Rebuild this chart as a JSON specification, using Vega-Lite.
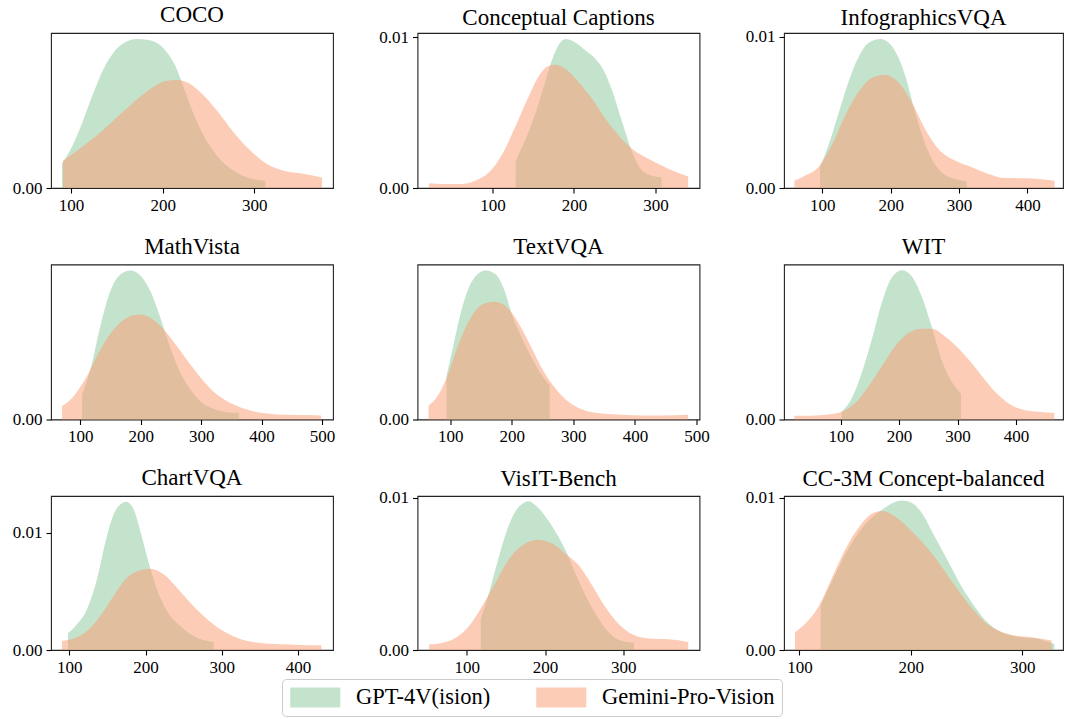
{
  "$schema": "https://vega.github.io/schema/vega-lite/v6.json",
  "background": "white",
  "padding": {"left": 11, "top": 3, "right": 0, "bottom": 0},
  "bounds": "flush",
  "columns": 3,
  "spacing": {"row": 76.5, "column": 84.5},
  "datasets": {
    "kde": [
      {"d":"COCO","m":"GPT-4V(ision)","x":90.2,"y":0.00146},{"d":"COCO","m":"GPT-4V(ision)","x":101.1,"y":0.00245},{"d":"COCO","m":"GPT-4V(ision)","x":113.8,"y":0.0041},{"d":"COCO","m":"GPT-4V(ision)","x":124.7,"y":0.00568},{"d":"COCO","m":"GPT-4V(ision)","x":135.6,"y":0.00708},{"d":"COCO","m":"GPT-4V(ision)","x":146.5,"y":0.00805},{"d":"COCO","m":"GPT-4V(ision)","x":157.5,"y":0.0086},{"d":"COCO","m":"GPT-4V(ision)","x":172,"y":0.00884},{"d":"COCO","m":"GPT-4V(ision)","x":182.9,"y":0.0088},{"d":"COCO","m":"GPT-4V(ision)","x":193.8,"y":0.0086},{"d":"COCO","m":"GPT-4V(ision)","x":204.7,"y":0.00805},{"d":"COCO","m":"GPT-4V(ision)","x":213.8,"y":0.00726},{"d":"COCO","m":"GPT-4V(ision)","x":222.9,"y":0.00597},{"d":"COCO","m":"GPT-4V(ision)","x":233.8,"y":0.00439},{"d":"COCO","m":"GPT-4V(ision)","x":244.7,"y":0.00311},{"d":"COCO","m":"GPT-4V(ision)","x":259.3,"y":0.00192},{"d":"COCO","m":"GPT-4V(ision)","x":277.5,"y":0.00103},{"d":"COCO","m":"GPT-4V(ision)","x":295.6,"y":0.00057},{"d":"COCO","m":"GPT-4V(ision)","x":312,"y":0.00043},
      {"d":"COCO","m":"Gemini-Pro-Vision","x":91.3,"y":0.00162},{"d":"COCO","m":"Gemini-Pro-Vision","x":113.8,"y":0.00251},{"d":"COCO","m":"Gemini-Pro-Vision","x":132,"y":0.0033},{"d":"COCO","m":"Gemini-Pro-Vision","x":150.2,"y":0.0042},{"d":"COCO","m":"Gemini-Pro-Vision","x":168.4,"y":0.00509},{"d":"COCO","m":"Gemini-Pro-Vision","x":186.5,"y":0.00588},{"d":"COCO","m":"Gemini-Pro-Vision","x":204.7,"y":0.00637},{"d":"COCO","m":"Gemini-Pro-Vision","x":215.6,"y":0.00641},{"d":"COCO","m":"Gemini-Pro-Vision","x":226.5,"y":0.00627},{"d":"COCO","m":"Gemini-Pro-Vision","x":241.1,"y":0.00568},{"d":"COCO","m":"Gemini-Pro-Vision","x":259.3,"y":0.00459},{"d":"COCO","m":"Gemini-Pro-Vision","x":277.5,"y":0.0033},{"d":"COCO","m":"Gemini-Pro-Vision","x":295.6,"y":0.00222},{"d":"COCO","m":"Gemini-Pro-Vision","x":313.8,"y":0.00143},{"d":"COCO","m":"Gemini-Pro-Vision","x":332,"y":0.00103},{"d":"COCO","m":"Gemini-Pro-Vision","x":350.2,"y":0.00087},{"d":"COCO","m":"Gemini-Pro-Vision","x":373.8,"y":0.00063},

      {"d":"Conceptual Captions","m":"GPT-4V(ision)","x":128.6,"y":0.00181},{"d":"Conceptual Captions","m":"GPT-4V(ision)","x":140.8,"y":0.00325},{"d":"Conceptual Captions","m":"GPT-4V(ision)","x":153.1,"y":0.00502},{"d":"Conceptual Captions","m":"GPT-4V(ision)","x":163.3,"y":0.00679},{"d":"Conceptual Captions","m":"GPT-4V(ision)","x":171.4,"y":0.00823},{"d":"Conceptual Captions","m":"GPT-4V(ision)","x":179.6,"y":0.00934},{"d":"Conceptual Captions","m":"GPT-4V(ision)","x":189.8,"y":0.00989},{"d":"Conceptual Captions","m":"GPT-4V(ision)","x":200,"y":0.00971},{"d":"Conceptual Captions","m":"GPT-4V(ision)","x":214.3,"y":0.00912},{"d":"Conceptual Captions","m":"GPT-4V(ision)","x":226.5,"y":0.00856},{"d":"Conceptual Captions","m":"GPT-4V(ision)","x":236.7,"y":0.00779},{"d":"Conceptual Captions","m":"GPT-4V(ision)","x":246.9,"y":0.00646},{"d":"Conceptual Captions","m":"GPT-4V(ision)","x":259.2,"y":0.00436},{"d":"Conceptual Captions","m":"GPT-4V(ision)","x":271.4,"y":0.00237},{"d":"Conceptual Captions","m":"GPT-4V(ision)","x":283.7,"y":0.00115},{"d":"Conceptual Captions","m":"GPT-4V(ision)","x":295.9,"y":0.00082},{"d":"Conceptual Captions","m":"GPT-4V(ision)","x":307.3,"y":0.00071},
      {"d":"Conceptual Captions","m":"Gemini-Pro-Vision","x":22.4,"y":0.00031},{"d":"Conceptual Captions","m":"Gemini-Pro-Vision","x":38.8,"y":0.00027},{"d":"Conceptual Captions","m":"Gemini-Pro-Vision","x":63.3,"y":0.00027},{"d":"Conceptual Captions","m":"Gemini-Pro-Vision","x":79.6,"y":0.00049},{"d":"Conceptual Captions","m":"Gemini-Pro-Vision","x":95.9,"y":0.00104},{"d":"Conceptual Captions","m":"Gemini-Pro-Vision","x":112.2,"y":0.00226},{"d":"Conceptual Captions","m":"Gemini-Pro-Vision","x":128.6,"y":0.00414},{"d":"Conceptual Captions","m":"Gemini-Pro-Vision","x":144.9,"y":0.00613},{"d":"Conceptual Captions","m":"Gemini-Pro-Vision","x":157.1,"y":0.00746},{"d":"Conceptual Captions","m":"Gemini-Pro-Vision","x":169.4,"y":0.00812},{"d":"Conceptual Captions","m":"Gemini-Pro-Vision","x":177.6,"y":0.00819},{"d":"Conceptual Captions","m":"Gemini-Pro-Vision","x":189.8,"y":0.0079},{"d":"Conceptual Captions","m":"Gemini-Pro-Vision","x":206.1,"y":0.00701},{"d":"Conceptual Captions","m":"Gemini-Pro-Vision","x":222.4,"y":0.00591},{"d":"Conceptual Captions","m":"Gemini-Pro-Vision","x":238.8,"y":0.00458},{"d":"Conceptual Captions","m":"Gemini-Pro-Vision","x":255.1,"y":0.00347},{"d":"Conceptual Captions","m":"Gemini-Pro-Vision","x":271.4,"y":0.00259},{"d":"Conceptual Captions","m":"Gemini-Pro-Vision","x":287.8,"y":0.00204},{"d":"Conceptual Captions","m":"Gemini-Pro-Vision","x":308.2,"y":0.00148},{"d":"Conceptual Captions","m":"Gemini-Pro-Vision","x":324.5,"y":0.00108},{"d":"Conceptual Captions","m":"Gemini-Pro-Vision","x":340,"y":0.00077},

      {"d":"InfographicsVQA","m":"GPT-4V(ision)","x":96.6,"y":0.00137},{"d":"InfographicsVQA","m":"GPT-4V(ision)","x":108.8,"y":0.0028},{"d":"InfographicsVQA","m":"GPT-4V(ision)","x":123.4,"y":0.00489},{"d":"InfographicsVQA","m":"GPT-4V(ision)","x":138,"y":0.00698},{"d":"InfographicsVQA","m":"GPT-4V(ision)","x":152.7,"y":0.00863},{"d":"InfographicsVQA","m":"GPT-4V(ision)","x":167.3,"y":0.00958},{"d":"InfographicsVQA","m":"GPT-4V(ision)","x":184.4,"y":0.00985},{"d":"InfographicsVQA","m":"GPT-4V(ision)","x":199,"y":0.00952},{"d":"InfographicsVQA","m":"GPT-4V(ision)","x":211.2,"y":0.00863},{"d":"InfographicsVQA","m":"GPT-4V(ision)","x":223.4,"y":0.00709},{"d":"InfographicsVQA","m":"GPT-4V(ision)","x":235.6,"y":0.005},{"d":"InfographicsVQA","m":"GPT-4V(ision)","x":247.8,"y":0.00324},{"d":"InfographicsVQA","m":"GPT-4V(ision)","x":260,"y":0.00192},{"d":"InfographicsVQA","m":"GPT-4V(ision)","x":274.6,"y":0.00104},{"d":"InfographicsVQA","m":"GPT-4V(ision)","x":294.1,"y":0.00059},{"d":"InfographicsVQA","m":"GPT-4V(ision)","x":311.2,"y":0.00042},
      {"d":"InfographicsVQA","m":"Gemini-Pro-Vision","x":59,"y":0.00048},{"d":"InfographicsVQA","m":"Gemini-Pro-Vision","x":74.6,"y":0.00081},{"d":"InfographicsVQA","m":"Gemini-Pro-Vision","x":94.1,"y":0.00137},{"d":"InfographicsVQA","m":"Gemini-Pro-Vision","x":113.7,"y":0.0028},{"d":"InfographicsVQA","m":"Gemini-Pro-Vision","x":133.2,"y":0.00478},{"d":"InfographicsVQA","m":"Gemini-Pro-Vision","x":152.7,"y":0.00632},{"d":"InfographicsVQA","m":"Gemini-Pro-Vision","x":172.2,"y":0.00727},{"d":"InfographicsVQA","m":"Gemini-Pro-Vision","x":191.7,"y":0.00749},{"d":"InfographicsVQA","m":"Gemini-Pro-Vision","x":211.2,"y":0.00698},{"d":"InfographicsVQA","m":"Gemini-Pro-Vision","x":230.7,"y":0.00566},{"d":"InfographicsVQA","m":"Gemini-Pro-Vision","x":250.2,"y":0.0039},{"d":"InfographicsVQA","m":"Gemini-Pro-Vision","x":269.8,"y":0.00258},{"d":"InfographicsVQA","m":"Gemini-Pro-Vision","x":294.1,"y":0.00181},{"d":"InfographicsVQA","m":"Gemini-Pro-Vision","x":318.5,"y":0.00137},{"d":"InfographicsVQA","m":"Gemini-Pro-Vision","x":342.9,"y":0.00093},{"d":"InfographicsVQA","m":"Gemini-Pro-Vision","x":367.3,"y":0.00066},{"d":"InfographicsVQA","m":"Gemini-Pro-Vision","x":396.6,"y":0.00064},{"d":"InfographicsVQA","m":"Gemini-Pro-Vision","x":416.1,"y":0.00059},{"d":"InfographicsVQA","m":"Gemini-Pro-Vision","x":439.5,"y":0.00048},

      {"d":"MathVista","m":"GPT-4V(ision)","x":102.8,"y":0.00153},{"d":"MathVista","m":"GPT-4V(ision)","x":116.6,"y":0.00307},{"d":"MathVista","m":"GPT-4V(ision)","x":133.1,"y":0.00572},{"d":"MathVista","m":"GPT-4V(ision)","x":149.7,"y":0.00787},{"d":"MathVista","m":"GPT-4V(ision)","x":166.2,"y":0.00888},{"d":"MathVista","m":"GPT-4V(ision)","x":182.8,"y":0.00913},{"d":"MathVista","m":"GPT-4V(ision)","x":199.3,"y":0.00883},{"d":"MathVista","m":"GPT-4V(ision)","x":215.9,"y":0.00787},{"d":"MathVista","m":"GPT-4V(ision)","x":232.4,"y":0.00623},{"d":"MathVista","m":"GPT-4V(ision)","x":249,"y":0.00439},{"d":"MathVista","m":"GPT-4V(ision)","x":265.5,"y":0.00286},{"d":"MathVista","m":"GPT-4V(ision)","x":282.1,"y":0.00184},{"d":"MathVista","m":"GPT-4V(ision)","x":298.6,"y":0.00112},{"d":"MathVista","m":"GPT-4V(ision)","x":320.7,"y":0.00066},{"d":"MathVista","m":"GPT-4V(ision)","x":342.8,"y":0.00045},{"d":"MathVista","m":"GPT-4V(ision)","x":362.1,"y":0.00041},
      {"d":"MathVista","m":"Gemini-Pro-Vision","x":69.7,"y":0.00082},{"d":"MathVista","m":"Gemini-Pro-Vision","x":89,"y":0.00143},{"d":"MathVista","m":"Gemini-Pro-Vision","x":111,"y":0.00266},{"d":"MathVista","m":"Gemini-Pro-Vision","x":133.1,"y":0.00429},{"d":"MathVista","m":"Gemini-Pro-Vision","x":155.2,"y":0.00552},{"d":"MathVista","m":"Gemini-Pro-Vision","x":177.2,"y":0.00623},{"d":"MathVista","m":"Gemini-Pro-Vision","x":196.6,"y":0.00643},{"d":"MathVista","m":"Gemini-Pro-Vision","x":215.9,"y":0.00623},{"d":"MathVista","m":"Gemini-Pro-Vision","x":237.9,"y":0.00552},{"d":"MathVista","m":"Gemini-Pro-Vision","x":260,"y":0.00449},{"d":"MathVista","m":"Gemini-Pro-Vision","x":282.1,"y":0.00337},{"d":"MathVista","m":"Gemini-Pro-Vision","x":304.1,"y":0.00235},{"d":"MathVista","m":"Gemini-Pro-Vision","x":326.2,"y":0.00153},{"d":"MathVista","m":"Gemini-Pro-Vision","x":353.8,"y":0.00092},{"d":"MathVista","m":"Gemini-Pro-Vision","x":381.4,"y":0.00055},{"d":"MathVista","m":"Gemini-Pro-Vision","x":409,"y":0.00037},{"d":"MathVista","m":"Gemini-Pro-Vision","x":442.1,"y":0.00029},{"d":"MathVista","m":"Gemini-Pro-Vision","x":475.2,"y":0.00027},{"d":"MathVista","m":"Gemini-Pro-Vision","x":498.3,"y":0.00025},

      {"d":"TextVQA","m":"GPT-4V(ision)","x":94.1,"y":0.00266},{"d":"TextVQA","m":"GPT-4V(ision)","x":103.8,"y":0.00429},{"d":"TextVQA","m":"GPT-4V(ision)","x":114.6,"y":0.00613},{"d":"TextVQA","m":"GPT-4V(ision)","x":128.1,"y":0.00787},{"d":"TextVQA","m":"GPT-4V(ision)","x":141.6,"y":0.00879},{"d":"TextVQA","m":"GPT-4V(ision)","x":157.8,"y":0.00913},{"d":"TextVQA","m":"GPT-4V(ision)","x":174.1,"y":0.00888},{"d":"TextVQA","m":"GPT-4V(ision)","x":187.6,"y":0.00797},{"d":"TextVQA","m":"GPT-4V(ision)","x":201.1,"y":0.00634},{"d":"TextVQA","m":"GPT-4V(ision)","x":217.3,"y":0.00494},{"d":"TextVQA","m":"GPT-4V(ision)","x":233.5,"y":0.00371},{"d":"TextVQA","m":"GPT-4V(ision)","x":249.7,"y":0.00266},{"d":"TextVQA","m":"GPT-4V(ision)","x":261.6,"y":0.00209},
      {"d":"TextVQA","m":"Gemini-Pro-Vision","x":64.9,"y":0.00086},{"d":"TextVQA","m":"Gemini-Pro-Vision","x":79.5,"y":0.00143},{"d":"TextVQA","m":"Gemini-Pro-Vision","x":95.7,"y":0.00266},{"d":"TextVQA","m":"Gemini-Pro-Vision","x":114.6,"y":0.0047},{"d":"TextVQA","m":"Gemini-Pro-Vision","x":133.5,"y":0.00623},{"d":"TextVQA","m":"Gemini-Pro-Vision","x":152.4,"y":0.00705},{"d":"TextVQA","m":"Gemini-Pro-Vision","x":171.4,"y":0.00721},{"d":"TextVQA","m":"Gemini-Pro-Vision","x":190.3,"y":0.00694},{"d":"TextVQA","m":"Gemini-Pro-Vision","x":209.2,"y":0.00602},{"d":"TextVQA","m":"Gemini-Pro-Vision","x":228.1,"y":0.0047},{"d":"TextVQA","m":"Gemini-Pro-Vision","x":247,"y":0.00327},{"d":"TextVQA","m":"Gemini-Pro-Vision","x":265.9,"y":0.00215},{"d":"TextVQA","m":"Gemini-Pro-Vision","x":287.6,"y":0.00123},{"d":"TextVQA","m":"Gemini-Pro-Vision","x":314.6,"y":0.00062},{"d":"TextVQA","m":"Gemini-Pro-Vision","x":347,"y":0.00037},{"d":"TextVQA","m":"Gemini-Pro-Vision","x":379.5,"y":0.00029},{"d":"TextVQA","m":"Gemini-Pro-Vision","x":411.9,"y":0.00025},{"d":"TextVQA","m":"Gemini-Pro-Vision","x":444.3,"y":0.00025},{"d":"TextVQA","m":"Gemini-Pro-Vision","x":486.5,"y":0.00029},

      {"d":"WIT","m":"GPT-4V(ision)","x":101.7,"y":0.00047},{"d":"WIT","m":"GPT-4V(ision)","x":118.8,"y":0.00128},{"d":"WIT","m":"GPT-4V(ision)","x":135.9,"y":0.0028},{"d":"WIT","m":"GPT-4V(ision)","x":153.1,"y":0.00483},{"d":"WIT","m":"GPT-4V(ision)","x":170.2,"y":0.00707},{"d":"WIT","m":"GPT-4V(ision)","x":187.3,"y":0.00859},{"d":"WIT","m":"GPT-4V(ision)","x":204.4,"y":0.00905},{"d":"WIT","m":"GPT-4V(ision)","x":221.5,"y":0.00869},{"d":"WIT","m":"GPT-4V(ision)","x":238.6,"y":0.00747},{"d":"WIT","m":"GPT-4V(ision)","x":255.7,"y":0.00564},{"d":"WIT","m":"GPT-4V(ision)","x":272.8,"y":0.00361},{"d":"WIT","m":"GPT-4V(ision)","x":290,"y":0.00229},{"d":"WIT","m":"GPT-4V(ision)","x":305.9,"y":0.00158},
      {"d":"WIT","m":"Gemini-Pro-Vision","x":20.7,"y":0.00023},{"d":"WIT","m":"Gemini-Pro-Vision","x":50.4,"y":0.00023},{"d":"WIT","m":"Gemini-Pro-Vision","x":78.9,"y":0.0003},{"d":"WIT","m":"Gemini-Pro-Vision","x":101.7,"y":0.00047},{"d":"WIT","m":"Gemini-Pro-Vision","x":124.5,"y":0.00098},{"d":"WIT","m":"Gemini-Pro-Vision","x":147.3,"y":0.00199},{"d":"WIT","m":"Gemini-Pro-Vision","x":170.2,"y":0.00321},{"d":"WIT","m":"Gemini-Pro-Vision","x":193,"y":0.00443},{"d":"WIT","m":"Gemini-Pro-Vision","x":215.8,"y":0.00524},{"d":"WIT","m":"Gemini-Pro-Vision","x":238.6,"y":0.0055},{"d":"WIT","m":"Gemini-Pro-Vision","x":255.7,"y":0.0055},{"d":"WIT","m":"Gemini-Pro-Vision","x":278.6,"y":0.00504},{"d":"WIT","m":"Gemini-Pro-Vision","x":301.4,"y":0.00432},{"d":"WIT","m":"Gemini-Pro-Vision","x":324.2,"y":0.00341},{"d":"WIT","m":"Gemini-Pro-Vision","x":347,"y":0.0024},{"d":"WIT","m":"Gemini-Pro-Vision","x":369.8,"y":0.00149},{"d":"WIT","m":"Gemini-Pro-Vision","x":392.6,"y":0.00087},{"d":"WIT","m":"Gemini-Pro-Vision","x":415.5,"y":0.00056},{"d":"WIT","m":"Gemini-Pro-Vision","x":438.3,"y":0.00047},{"d":"WIT","m":"Gemini-Pro-Vision","x":465.7,"y":0.0004},

      {"d":"ChartVQA","m":"GPT-4V(ision)","x":98.3,"y":0.00142},{"d":"ChartVQA","m":"GPT-4V(ision)","x":110.1,"y":0.00219},{"d":"ChartVQA","m":"GPT-4V(ision)","x":123.2,"y":0.00347},{"d":"ChartVQA","m":"GPT-4V(ision)","x":136.3,"y":0.00602},{"d":"ChartVQA","m":"GPT-4V(ision)","x":147.2,"y":0.00915},{"d":"ChartVQA","m":"GPT-4V(ision)","x":158.2,"y":0.01156},{"d":"ChartVQA","m":"GPT-4V(ision)","x":166.9,"y":0.01241},{"d":"ChartVQA","m":"GPT-4V(ision)","x":174.8,"y":0.01264},{"d":"ChartVQA","m":"GPT-4V(ision)","x":184.4,"y":0.01199},{"d":"ChartVQA","m":"GPT-4V(ision)","x":193.1,"y":0.01014},{"d":"ChartVQA","m":"GPT-4V(ision)","x":204.1,"y":0.00744},{"d":"ChartVQA","m":"GPT-4V(ision)","x":215,"y":0.00517},{"d":"ChartVQA","m":"GPT-4V(ision)","x":228.1,"y":0.00332},{"d":"ChartVQA","m":"GPT-4V(ision)","x":245.6,"y":0.00205},{"d":"ChartVQA","m":"GPT-4V(ision)","x":263.1,"y":0.00119},{"d":"ChartVQA","m":"GPT-4V(ision)","x":289.3,"y":0.00068},
      {"d":"ChartVQA","m":"Gemini-Pro-Vision","x":90.4,"y":0.00077},{"d":"ChartVQA","m":"Gemini-Pro-Vision","x":105.7,"y":0.00097},{"d":"ChartVQA","m":"Gemini-Pro-Vision","x":123.2,"y":0.00162},{"d":"ChartVQA","m":"Gemini-Pro-Vision","x":140.7,"y":0.0029},{"d":"ChartVQA","m":"Gemini-Pro-Vision","x":158.2,"y":0.0046},{"d":"ChartVQA","m":"Gemini-Pro-Vision","x":175.6,"y":0.00616},{"d":"ChartVQA","m":"Gemini-Pro-Vision","x":193.1,"y":0.00679},{"d":"ChartVQA","m":"Gemini-Pro-Vision","x":206.3,"y":0.00693},{"d":"ChartVQA","m":"Gemini-Pro-Vision","x":223.7,"y":0.00645},{"d":"ChartVQA","m":"Gemini-Pro-Vision","x":241.2,"y":0.00531},{"d":"ChartVQA","m":"Gemini-Pro-Vision","x":258.7,"y":0.00403},{"d":"ChartVQA","m":"Gemini-Pro-Vision","x":276.2,"y":0.0029},{"d":"ChartVQA","m":"Gemini-Pro-Vision","x":298.1,"y":0.00176},{"d":"ChartVQA","m":"Gemini-Pro-Vision","x":319.9,"y":0.00105},{"d":"ChartVQA","m":"Gemini-Pro-Vision","x":346.2,"y":0.00063},{"d":"ChartVQA","m":"Gemini-Pro-Vision","x":376.8,"y":0.00048},{"d":"ChartVQA","m":"Gemini-Pro-Vision","x":403,"y":0.00043},{"d":"ChartVQA","m":"Gemini-Pro-Vision","x":430.6,"y":0.0004},

      {"d":"VisIT-Bench","m":"GPT-4V(ision)","x":117.9,"y":0.00202},{"d":"VisIT-Bench","m":"GPT-4V(ision)","x":128.5,"y":0.00378},{"d":"VisIT-Bench","m":"GPT-4V(ision)","x":139.1,"y":0.00576},{"d":"VisIT-Bench","m":"GPT-4V(ision)","x":149.8,"y":0.00763},{"d":"VisIT-Bench","m":"GPT-4V(ision)","x":160.4,"y":0.00895},{"d":"VisIT-Bench","m":"GPT-4V(ision)","x":171.1,"y":0.0096},{"d":"VisIT-Bench","m":"GPT-4V(ision)","x":178.7,"y":0.00976},{"d":"VisIT-Bench","m":"GPT-4V(ision)","x":188.1,"y":0.00949},{"d":"VisIT-Bench","m":"GPT-4V(ision)","x":200.9,"y":0.00873},{"d":"VisIT-Bench","m":"GPT-4V(ision)","x":213.6,"y":0.00774},{"d":"VisIT-Bench","m":"GPT-4V(ision)","x":226.4,"y":0.00653},{"d":"VisIT-Bench","m":"GPT-4V(ision)","x":239.1,"y":0.00499},{"d":"VisIT-Bench","m":"GPT-4V(ision)","x":251.9,"y":0.00356},{"d":"VisIT-Bench","m":"GPT-4V(ision)","x":264.7,"y":0.00235},{"d":"VisIT-Bench","m":"GPT-4V(ision)","x":281.7,"y":0.00114},{"d":"VisIT-Bench","m":"GPT-4V(ision)","x":298.7,"y":0.00059},{"d":"VisIT-Bench","m":"GPT-4V(ision)","x":313.6,"y":0.00048},
      {"d":"VisIT-Bench","m":"Gemini-Pro-Vision","x":51.9,"y":0.00037},{"d":"VisIT-Bench","m":"Gemini-Pro-Vision","x":68.9,"y":0.00048},{"d":"VisIT-Bench","m":"Gemini-Pro-Vision","x":86,"y":0.00081},{"d":"VisIT-Bench","m":"Gemini-Pro-Vision","x":103,"y":0.00158},{"d":"VisIT-Bench","m":"Gemini-Pro-Vision","x":120,"y":0.0029},{"d":"VisIT-Bench","m":"Gemini-Pro-Vision","x":137,"y":0.00444},{"d":"VisIT-Bench","m":"Gemini-Pro-Vision","x":154,"y":0.00598},{"d":"VisIT-Bench","m":"Gemini-Pro-Vision","x":171.1,"y":0.00686},{"d":"VisIT-Bench","m":"Gemini-Pro-Vision","x":190.2,"y":0.00723},{"d":"VisIT-Bench","m":"Gemini-Pro-Vision","x":209.4,"y":0.00697},{"d":"VisIT-Bench","m":"Gemini-Pro-Vision","x":226.4,"y":0.00631},{"d":"VisIT-Bench","m":"Gemini-Pro-Vision","x":243.4,"y":0.00554},{"d":"VisIT-Bench","m":"Gemini-Pro-Vision","x":260.4,"y":0.00422},{"d":"VisIT-Bench","m":"Gemini-Pro-Vision","x":277.4,"y":0.00279},{"d":"VisIT-Bench","m":"Gemini-Pro-Vision","x":294.5,"y":0.00169},{"d":"VisIT-Bench","m":"Gemini-Pro-Vision","x":311.5,"y":0.00103},{"d":"VisIT-Bench","m":"Gemini-Pro-Vision","x":332.8,"y":0.00075},{"d":"VisIT-Bench","m":"Gemini-Pro-Vision","x":358.3,"y":0.0007},{"d":"VisIT-Bench","m":"Gemini-Pro-Vision","x":383,"y":0.00053},

      {"d":"CC-3M Concept-balanced","m":"GPT-4V(ision)","x":119.1,"y":0.00294},{"d":"CC-3M Concept-balanced","m":"GPT-4V(ision)","x":129,"y":0.00448},{"d":"CC-3M Concept-balanced","m":"GPT-4V(ision)","x":141,"y":0.00625},{"d":"CC-3M Concept-balanced","m":"GPT-4V(ision)","x":152.9,"y":0.00768},{"d":"CC-3M Concept-balanced","m":"GPT-4V(ision)","x":164.9,"y":0.00868},{"d":"CC-3M Concept-balanced","m":"GPT-4V(ision)","x":176.8,"y":0.00934},{"d":"CC-3M Concept-balanced","m":"GPT-4V(ision)","x":185.8,"y":0.00971},{"d":"CC-3M Concept-balanced","m":"GPT-4V(ision)","x":191.8,"y":0.00982},{"d":"CC-3M Concept-balanced","m":"GPT-4V(ision)","x":200.7,"y":0.00967},{"d":"CC-3M Concept-balanced","m":"GPT-4V(ision)","x":209.7,"y":0.00901},{"d":"CC-3M Concept-balanced","m":"GPT-4V(ision)","x":221.7,"y":0.0074},{"d":"CC-3M Concept-balanced","m":"GPT-4V(ision)","x":233.6,"y":0.0058},{"d":"CC-3M Concept-balanced","m":"GPT-4V(ision)","x":245.6,"y":0.00415},{"d":"CC-3M Concept-balanced","m":"GPT-4V(ision)","x":257.5,"y":0.00283},{"d":"CC-3M Concept-balanced","m":"GPT-4V(ision)","x":269.5,"y":0.00175},{"d":"CC-3M Concept-balanced","m":"GPT-4V(ision)","x":284.5,"y":0.00106},{"d":"CC-3M Concept-balanced","m":"GPT-4V(ision)","x":299.4,"y":0.00084},{"d":"CC-3M Concept-balanced","m":"GPT-4V(ision)","x":314.3,"y":0.00073},{"d":"CC-3M Concept-balanced","m":"GPT-4V(ision)","x":328.7,"y":0.0004},
      {"d":"CC-3M Concept-balanced","m":"Gemini-Pro-Vision","x":96.1,"y":0.00117},{"d":"CC-3M Concept-balanced","m":"Gemini-Pro-Vision","x":105.1,"y":0.00172},{"d":"CC-3M Concept-balanced","m":"Gemini-Pro-Vision","x":117,"y":0.00283},{"d":"CC-3M Concept-balanced","m":"Gemini-Pro-Vision","x":129,"y":0.0047},{"d":"CC-3M Concept-balanced","m":"Gemini-Pro-Vision","x":141,"y":0.00658},{"d":"CC-3M Concept-balanced","m":"Gemini-Pro-Vision","x":152.9,"y":0.00801},{"d":"CC-3M Concept-balanced","m":"Gemini-Pro-Vision","x":164.9,"y":0.00894},{"d":"CC-3M Concept-balanced","m":"Gemini-Pro-Vision","x":173.8,"y":0.00912},{"d":"CC-3M Concept-balanced","m":"Gemini-Pro-Vision","x":182.8,"y":0.0089},{"d":"CC-3M Concept-balanced","m":"Gemini-Pro-Vision","x":194.8,"y":0.00823},{"d":"CC-3M Concept-balanced","m":"Gemini-Pro-Vision","x":206.7,"y":0.00735},{"d":"CC-3M Concept-balanced","m":"Gemini-Pro-Vision","x":218.7,"y":0.00635},{"d":"CC-3M Concept-balanced","m":"Gemini-Pro-Vision","x":230.6,"y":0.00515},{"d":"CC-3M Concept-balanced","m":"Gemini-Pro-Vision","x":242.6,"y":0.0039},{"d":"CC-3M Concept-balanced","m":"Gemini-Pro-Vision","x":254.6,"y":0.00275},{"d":"CC-3M Concept-balanced","m":"Gemini-Pro-Vision","x":266.5,"y":0.00183},{"d":"CC-3M Concept-balanced","m":"Gemini-Pro-Vision","x":278.5,"y":0.00128},{"d":"CC-3M Concept-balanced","m":"Gemini-Pro-Vision","x":293.4,"y":0.00095},{"d":"CC-3M Concept-balanced","m":"Gemini-Pro-Vision","x":308.4,"y":0.00084},{"d":"CC-3M Concept-balanced","m":"Gemini-Pro-Vision","x":326.3,"y":0.00062}
    ]
  },
  "data": {"name": "kde"},
  "concat": [
    {"title": {"text": "COCO", "offset": 6}, "width": 282, "height": 155,
     "transform": [{"filter": "datum.d === 'COCO'"}],
     "mark": {"type": "area", "opacity": 0.5, "interpolate": "monotone"},
     "encoding": {
       "x": {"field": "x", "type": "quantitative", "title": null, "scale": {"domain": [78.2, 385.8], "nice": false, "zero": false}, "axis": {"values": [100, 200, 300, 400, 500]}},
       "y": {"field": "y", "type": "quantitative", "title": null, "stack": null, "scale": {"domain": [0, 0.0092], "nice": false}, "axis": {"values": [0, 0.01], "format": ".2f"}},
       "color": {"field": "m", "type": "nominal", "scale": {"domain": ["GPT-4V(ision)", "Gemini-Pro-Vision"], "range": ["#89c799", "#fb996f"]}, "legend": {"orient": "none", "legendX": 231, "legendY": 646, "direction": "horizontal", "title": null}}
     }},
    {"title": {"text": "Conceptual Captions", "offset": -2}, "width": 282, "height": 155,
     "transform": [{"filter": "datum.d === 'Conceptual Captions'"}],
     "mark": {"type": "area", "opacity": 0.5, "interpolate": "monotone"},
     "encoding": {
       "x": {"field": "x", "type": "quantitative", "title": null, "scale": {"domain": [8.2, 353.9], "nice": false, "zero": false}, "axis": {"values": [100, 200, 300, 400, 500]}},
       "y": {"field": "y", "type": "quantitative", "title": null, "stack": null, "scale": {"domain": [0, 0.01029], "nice": false}, "axis": {"values": [0, 0.01], "format": ".2f"}},
       "color": {"field": "m", "type": "nominal", "scale": {"domain": ["GPT-4V(ision)", "Gemini-Pro-Vision"], "range": ["#89c799", "#fb996f"]}, "legend": {"orient": "none", "legendX": 231, "legendY": 646, "direction": "horizontal", "title": null}}
     }},
    {"title": {"text": "InfographicsVQA", "offset": -2}, "width": 279, "height": 155,
     "transform": [{"filter": "datum.d === 'InfographicsVQA'"}],
     "mark": {"type": "area", "opacity": 0.5, "interpolate": "monotone"},
     "encoding": {
       "x": {"field": "x", "type": "quantitative", "title": null, "scale": {"domain": [43.9, 452], "nice": false, "zero": false}, "axis": {"values": [100, 200, 300, 400, 500]}},
       "y": {"field": "y", "type": "quantitative", "title": null, "stack": null, "scale": {"domain": [0, 0.01024], "nice": false}, "axis": {"values": [0, 0.01], "format": ".2f"}},
       "color": {"field": "m", "type": "nominal", "scale": {"domain": ["GPT-4V(ision)", "Gemini-Pro-Vision"], "range": ["#89c799", "#fb996f"]}, "legend": {"orient": "none", "legendX": 231, "legendY": 646, "direction": "horizontal", "title": null}}
     }},
    {"title": {"text": "MathVista", "offset": 6}, "width": 282, "height": 155,
     "transform": [{"filter": "datum.d === 'MathVista'"}],
     "mark": {"type": "area", "opacity": 0.5, "interpolate": "monotone"},
     "encoding": {
       "x": {"field": "x", "type": "quantitative", "title": null, "scale": {"domain": [51.4, 518.2], "nice": false, "zero": false}, "axis": {"values": [100, 200, 300, 400, 500]}},
       "y": {"field": "y", "type": "quantitative", "title": null, "stack": null, "scale": {"domain": [0, 0.0095], "nice": false}, "axis": {"values": [0, 0.01], "format": ".2f"}},
       "color": {"field": "m", "type": "nominal", "scale": {"domain": ["GPT-4V(ision)", "Gemini-Pro-Vision"], "range": ["#89c799", "#fb996f"]}, "legend": {"orient": "none", "legendX": 231, "legendY": 646, "direction": "horizontal", "title": null}}
     }},
    {"title": {"text": "TextVQA", "offset": 6}, "width": 282, "height": 155,
     "transform": [{"filter": "datum.d === 'TextVQA'"}],
     "mark": {"type": "area", "opacity": 0.5, "interpolate": "monotone"},
     "encoding": {
       "x": {"field": "x", "type": "quantitative", "title": null, "scale": {"domain": [47, 504.9], "nice": false, "zero": false}, "axis": {"values": [100, 200, 300, 400, 500]}},
       "y": {"field": "y", "type": "quantitative", "title": null, "stack": null, "scale": {"domain": [0, 0.0095], "nice": false}, "axis": {"values": [0, 0.01], "format": ".2f"}},
       "color": {"field": "m", "type": "nominal", "scale": {"domain": ["GPT-4V(ision)", "Gemini-Pro-Vision"], "range": ["#89c799", "#fb996f"]}, "legend": {"orient": "none", "legendX": 231, "legendY": 646, "direction": "horizontal", "title": null}}
     }},
    {"title": {"text": "WIT", "offset": 6}, "width": 279, "height": 155,
     "transform": [{"filter": "datum.d === 'WIT'"}],
     "mark": {"type": "area", "opacity": 0.5, "interpolate": "monotone"},
     "encoding": {
       "x": {"field": "x", "type": "quantitative", "title": null, "scale": {"domain": [3, 480.5], "nice": false, "zero": false}, "axis": {"values": [100, 200, 300, 400, 500]}},
       "y": {"field": "y", "type": "quantitative", "title": null, "stack": null, "scale": {"domain": [0, 0.0094], "nice": false}, "axis": {"values": [0, 0.01], "format": ".2f"}},
       "color": {"field": "m", "type": "nominal", "scale": {"domain": ["GPT-4V(ision)", "Gemini-Pro-Vision"], "range": ["#89c799", "#fb996f"]}, "legend": {"orient": "none", "legendX": 231, "legendY": 646, "direction": "horizontal", "title": null}}
     }},
    {"title": {"text": "ChartVQA", "offset": 6}, "width": 282, "height": 154,
     "transform": [{"filter": "datum.d === 'ChartVQA'"}],
     "mark": {"type": "area", "opacity": 0.5, "interpolate": "monotone"},
     "encoding": {
       "x": {"field": "x", "type": "quantitative", "title": null, "scale": {"domain": [76, 445.9], "nice": false, "zero": false}, "axis": {"values": [100, 200, 300, 400, 500]}},
       "y": {"field": "y", "type": "quantitative", "title": null, "stack": null, "scale": {"domain": [0, 0.013125], "nice": false}, "axis": {"values": [0, 0.01], "format": ".2f"}},
       "color": {"field": "m", "type": "nominal", "scale": {"domain": ["GPT-4V(ision)", "Gemini-Pro-Vision"], "range": ["#89c799", "#fb996f"]}, "legend": {"orient": "none", "legendX": 231, "legendY": 646, "direction": "horizontal", "title": null}}
     }},
    {"title": {"text": "VisIT-Bench", "offset": -2}, "width": 282, "height": 154,
     "transform": [{"filter": "datum.d === 'VisIT-Bench'"}],
     "mark": {"type": "area", "opacity": 0.5, "interpolate": "monotone"},
     "encoding": {
       "x": {"field": "x", "type": "quantitative", "title": null, "scale": {"domain": [37, 397.4], "nice": false, "zero": false}, "axis": {"values": [100, 200, 300, 400, 500]}},
       "y": {"field": "y", "type": "quantitative", "title": null, "stack": null, "scale": {"domain": [0, 0.01011], "nice": false}, "axis": {"values": [0, 0.01], "format": ".2f"}},
       "color": {"field": "m", "type": "nominal", "scale": {"domain": ["GPT-4V(ision)", "Gemini-Pro-Vision"], "range": ["#89c799", "#fb996f"]}, "legend": {"orient": "none", "legendX": 231, "legendY": 646, "direction": "horizontal", "title": null}}
     }},
    {"title": {"text": "CC-3M Concept-balanced", "offset": -2}, "width": 279, "height": 154,
     "transform": [{"filter": "datum.d === 'CC-3M Concept-balanced'"}],
     "mark": {"type": "area", "opacity": 0.5, "interpolate": "monotone"},
     "encoding": {
       "x": {"field": "x", "type": "quantitative", "title": null, "scale": {"domain": [86.2, 336.5], "nice": false, "zero": false}, "axis": {"values": [100, 200, 300, 400, 500]}},
       "y": {"field": "y", "type": "quantitative", "title": null, "stack": null, "scale": {"domain": [0, 0.01011], "nice": false}, "axis": {"values": [0, 0.01], "format": ".2f"}},
       "color": {"field": "m", "type": "nominal", "scale": {"domain": ["GPT-4V(ision)", "Gemini-Pro-Vision"], "range": ["#89c799", "#fb996f"]}, "legend": {"orient": "none", "legendX": 231, "legendY": 646, "direction": "horizontal", "title": null}}
     }}
  ],
  "config": {
    "font": "Liberation Serif, Times New Roman, serif",
    "view": {"stroke": "#222222", "strokeWidth": 1.1},
    "axis": {"domain": false, "grid": false, "ticks": true, "tickColor": "#000000", "tickSize": 5, "tickWidth": 1.1, "labelFont": "Liberation Serif, Times New Roman, serif", "labelFontSize": 17, "labelColor": "#000000", "labelPadding": 4, "labelFlush": false, "labelOverlap": false},
    "title": {"font": "Liberation Serif, Times New Roman, serif", "fontSize": 23, "fontWeight": "normal", "color": "#000000", "anchor": "middle", "baseline": "alphabetic", "frame": "group"},
    "legend": {"symbolType": "M-1,-1H4V1H-1Z", "symbolSize": 400, "symbolStrokeWidth": 0, "labelFont": "Liberation Serif, Times New Roman, serif", "labelFontSize": 22.5, "labelColor": "#000000", "labelOffset": 44.6, "columnPadding": 44, "padding": 7, "strokeColor": "#cccccc", "fillColor": "#ffffff", "cornerRadius": 4, "labelLimit": 400}
  }
}
